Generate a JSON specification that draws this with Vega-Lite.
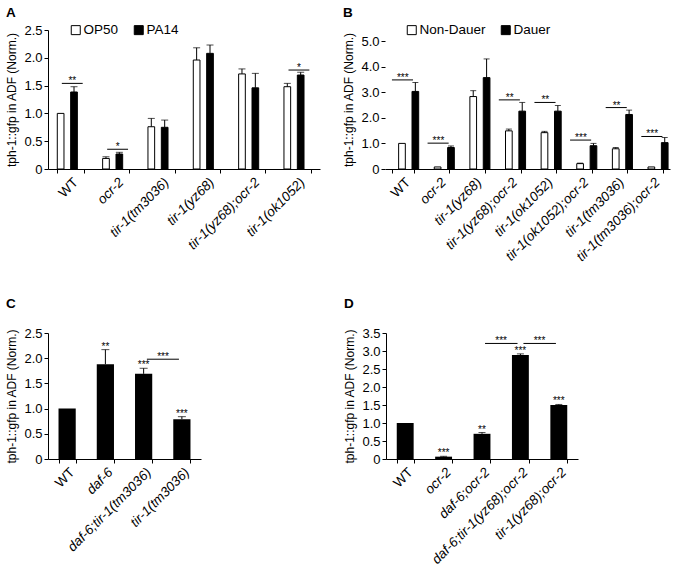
{
  "$schema": "https://vega.github.io/schema/vega-lite/v6.json",
  "background": "white",
  "padding": {"left": 5, "top": 5, "right": 2, "bottom": 2},
  "datasets": {
    "a": [
      {"strain": "WT", "cond": "OP50", "value": 1.0, "err": null},
      {"strain": "WT", "cond": "PA14", "value": 1.385, "err": 1.48},
      {"strain": "ocr-2", "cond": "OP50", "value": 0.19, "err": 0.22},
      {"strain": "ocr-2", "cond": "PA14", "value": 0.27, "err": 0.30},
      {"strain": "tir-1(tm3036)", "cond": "OP50", "value": 0.76, "err": 0.91},
      {"strain": "tir-1(tm3036)", "cond": "PA14", "value": 0.75, "err": 0.88},
      {"strain": "tir-1(yz68)", "cond": "OP50", "value": 1.96, "err": 2.18},
      {"strain": "tir-1(yz68)", "cond": "PA14", "value": 2.08, "err": 2.23},
      {"strain": "tir-1(yz68);ocr-2", "cond": "OP50", "value": 1.71, "err": 1.80},
      {"strain": "tir-1(yz68);ocr-2", "cond": "PA14", "value": 1.46, "err": 1.72},
      {"strain": "tir-1(ok1052)", "cond": "OP50", "value": 1.48, "err": 1.54},
      {"strain": "tir-1(ok1052)", "cond": "PA14", "value": 1.69, "err": 1.74}
    ],
    "a_sig": [
      {"strain": "WT", "y": 1.54, "label": "**"},
      {"strain": "ocr-2", "y": 0.355, "label": "*"},
      {"strain": "tir-1(ok1052)", "y": 1.78, "label": "*"}
    ],
    "b": [
      {"strain": "WT", "cond": "Non-Dauer", "value": 1.0, "err": null},
      {"strain": "WT", "cond": "Dauer", "value": 3.03, "err": 3.38},
      {"strain": "ocr-2", "cond": "Non-Dauer", "value": 0.08, "err": null},
      {"strain": "ocr-2", "cond": "Dauer", "value": 0.84, "err": 0.90},
      {"strain": "tir-1(yz68)", "cond": "Non-Dauer", "value": 2.83, "err": 3.06},
      {"strain": "tir-1(yz68)", "cond": "Dauer", "value": 3.57, "err": 4.3},
      {"strain": "tir-1(yz68);ocr-2", "cond": "Non-Dauer", "value": 1.49, "err": 1.56},
      {"strain": "tir-1(yz68);ocr-2", "cond": "Dauer", "value": 2.26, "err": 2.6},
      {"strain": "tir-1(ok1052)", "cond": "Non-Dauer", "value": 1.42, "err": 1.47},
      {"strain": "tir-1(ok1052)", "cond": "Dauer", "value": 2.26, "err": 2.48},
      {"strain": "tir-1(ok1052);ocr-2", "cond": "Non-Dauer", "value": 0.21, "err": 0.23},
      {"strain": "tir-1(ok1052);ocr-2", "cond": "Dauer", "value": 0.91, "err": 1.0},
      {"strain": "tir-1(tm3036)", "cond": "Non-Dauer", "value": 0.79, "err": 0.84},
      {"strain": "tir-1(tm3036)", "cond": "Dauer", "value": 2.13, "err": 2.3},
      {"strain": "tir-1(tm3036);ocr-2", "cond": "Non-Dauer", "value": 0.08, "err": null},
      {"strain": "tir-1(tm3036);ocr-2", "cond": "Dauer", "value": 1.03, "err": 1.23}
    ],
    "b_sig": [
      {"strain": "WT", "y": 3.48, "label": "***"},
      {"strain": "ocr-2", "y": 1.01, "label": "***"},
      {"strain": "tir-1(yz68);ocr-2", "y": 2.7, "label": "**"},
      {"strain": "tir-1(ok1052)", "y": 2.6, "label": "**"},
      {"strain": "tir-1(ok1052);ocr-2", "y": 1.13, "label": "***"},
      {"strain": "tir-1(tm3036)", "y": 2.4, "label": "**"},
      {"strain": "tir-1(tm3036);ocr-2", "y": 1.27, "label": "***"}
    ],
    "c": [
      {"strain": "WT", "value": 1.0, "err": null, "label": null},
      {"strain": "daf-6", "value": 1.88, "err": 2.17, "label": "**"},
      {"strain": "daf-6;tir-1(tm3036)", "value": 1.69, "err": 1.80, "label": "***"},
      {"strain": "tir-1(tm3036)", "value": 0.79, "err": 0.84, "label": "***"}
    ],
    "c_sig": [
      {"from": "daf-6;tir-1(tm3036)", "to": "tir-1(tm3036)", "y": 1.98, "label": "***"}
    ],
    "d": [
      {"strain": "WT", "value": 1.0, "err": null, "label": null},
      {"strain": "ocr-2", "value": 0.065, "err": 0.075, "label": "***"},
      {"strain": "daf-6;ocr-2", "value": 0.70, "err": 0.735, "label": "**"},
      {"strain": "daf-6;tir-1(yz68);ocr-2", "value": 2.89, "err": 2.92, "label": "***"},
      {"strain": "tir-1(yz68);ocr-2", "value": 1.50, "err": 1.515, "label": "***"}
    ],
    "d_sig": [
      {"from": "daf-6;ocr-2", "to": "daf-6;tir-1(yz68);ocr-2", "y": 3.21, "label": "***"},
      {"from": "daf-6;tir-1(yz68);ocr-2", "to": "tir-1(yz68);ocr-2", "y": 3.21, "label": "***"}
    ]
  },
  "vconcat": [
    {
      "resolve": {"scale": {"fill": "independent"}, "legend": {"fill": "independent"}},
      "hconcat": [
        {
          "title": {"text": "A", "offset": 4},
          "width": 272,
          "height": 139,
          "layer": [
            {
              "data": {"name": "a"},
              "mark": {"type": "bar", "stroke": "black", "strokeWidth": 1},
              "encoding": {
                "x": {"field": "strain", "type": "nominal",
                  "scale": {"domain": ["WT", "ocr-2", "tir-1(tm3036)", "tir-1(yz68)", "tir-1(yz68);ocr-2", "tir-1(ok1052)"], "paddingInner": 0.41, "paddingOuter": 0.205},
                  "axis": {"title": null, "labelFontStyle": {"condition": {"test": "datum.value === 'WT'", "value": "normal"}, "value": "italic"}}},
                "xOffset": {"field": "cond", "type": "nominal", "sort": ["OP50", "PA14"], "scale": {"paddingInner": 0, "paddingOuter": 0}},
                "y": {"field": "value", "type": "quantitative",
                  "scale": {"domain": [0, 2.5], "nice": false},
                  "axis": {"title": "tph-1::gfp in ADF (Norm.)", "values": [0, 0.5, 1, 1.5, 2, 2.5], "labelExpr": "datum.value == 0 ? '0' : format(datum.value, '.1f')"}},
                "fill": {"field": "cond", "type": "nominal",
                  "scale": {"domain": ["OP50", "PA14"], "range": ["white", "black"]},
                  "legend": {"orient": "none", "legendX": 21, "legendY": -7, "direction": "horizontal", "title": null}}
              }
            },
            {
              "data": {"name": "a"},
              "transform": [{"filter": "datum.err != null"}],
              "mark": {"type": "rule", "color": "black", "strokeWidth": 1},
              "encoding": {
                "x": {"field": "strain", "type": "nominal"},
                "xOffset": {"field": "cond", "type": "nominal", "sort": ["OP50", "PA14"]},
                "y": {"field": "value", "type": "quantitative", "axis": {"title": "tph-1::gfp in ADF (Norm.)", "values": [0, 0.5, 1, 1.5, 2, 2.5], "labelExpr": "datum.value == 0 ? '0' : format(datum.value, '.1f')"}},
                "y2": {"field": "err"}
              }
            },
            {
              "data": {"name": "a"},
              "transform": [{"filter": "datum.err != null"}],
              "mark": {"type": "tick", "color": "black", "size": 7, "thickness": 1, "orient": "horizontal"},
              "encoding": {
                "x": {"field": "strain", "type": "nominal"},
                "xOffset": {"field": "cond", "type": "nominal", "sort": ["OP50", "PA14"]},
                "y": {"field": "err", "type": "quantitative", "axis": {"title": "tph-1::gfp in ADF (Norm.)", "values": [0, 0.5, 1, 1.5, 2, 2.5], "labelExpr": "datum.value == 0 ? '0' : format(datum.value, '.1f')"}}
              }
            },
            {
              "data": {"name": "a_sig"},
              "mark": {"type": "rule", "color": "black", "strokeWidth": 1},
              "encoding": {
                "x": {"field": "strain", "type": "nominal", "bandPosition": 0.17},
                "x2": {"field": "strain", "bandPosition": 0.95},
                "y": {"field": "y", "type": "quantitative", "axis": {"title": "tph-1::gfp in ADF (Norm.)", "values": [0, 0.5, 1, 1.5, 2, 2.5], "labelExpr": "datum.value == 0 ? '0' : format(datum.value, '.1f')"}}
              }
            },
            {
              "data": {"name": "a_sig"},
              "mark": {"type": "text", "fontSize": 10, "dy": 1, "baseline": "alphabetic", "color": "black"},
              "encoding": {
                "x": {"field": "strain", "type": "nominal", "bandPosition": 0.56},
                "y": {"field": "y", "type": "quantitative", "axis": {"title": "tph-1::gfp in ADF (Norm.)", "values": [0, 0.5, 1, 1.5, 2, 2.5], "labelExpr": "datum.value == 0 ? '0' : format(datum.value, '.1f')"}},
                "text": {"field": "label"}
              }
            }
          ]
        },
        {
          "title": {"text": "B", "offset": 4},
          "width": 285,
          "height": 139,
          "layer": [
            {
              "data": {"name": "b"},
              "mark": {"type": "bar", "stroke": "black", "strokeWidth": 1},
              "encoding": {
                "x": {"field": "strain", "type": "nominal",
                  "scale": {"domain": ["WT", "ocr-2", "tir-1(yz68)", "tir-1(yz68);ocr-2", "tir-1(ok1052)", "tir-1(ok1052);ocr-2", "tir-1(tm3036)", "tir-1(tm3036);ocr-2"], "paddingInner": 0.39, "paddingOuter": 0.195},
                  "axis": {"title": null, "labelFontStyle": {"condition": {"test": "datum.value === 'WT'", "value": "normal"}, "value": "italic"}}},
                "xOffset": {"field": "cond", "type": "nominal", "sort": ["Non-Dauer", "Dauer"], "scale": {"paddingInner": 0, "paddingOuter": 0}},
                "y": {"field": "value", "type": "quantitative",
                  "scale": {"domain": [0, 5.43], "nice": false},
                  "axis": {"title": "tph-1::gfp in ADF (Norm.)", "domain": false, "values": [0, 1, 2, 3, 4, 5], "labelExpr": "datum.value == 0 ? '0' : format(datum.value, '.1f')"}},
                "fill": {"field": "cond", "type": "nominal",
                  "scale": {"domain": ["Non-Dauer", "Dauer"], "range": ["white", "black"]},
                  "legend": {"orient": "none", "legendX": 20, "legendY": -7, "direction": "horizontal", "title": null}}
              }
            },
            {
              "data": {"name": "b"},
              "transform": [{"filter": "datum.err != null"}],
              "mark": {"type": "rule", "color": "black", "strokeWidth": 1},
              "encoding": {
                "x": {"field": "strain", "type": "nominal"},
                "xOffset": {"field": "cond", "type": "nominal", "sort": ["Non-Dauer", "Dauer"]},
                "y": {"field": "value", "type": "quantitative", "axis": {"title": "tph-1::gfp in ADF (Norm.)", "domain": false, "values": [0, 1, 2, 3, 4, 5], "labelExpr": "datum.value == 0 ? '0' : format(datum.value, '.1f')"}},
                "y2": {"field": "err"}
              }
            },
            {
              "data": {"name": "b"},
              "transform": [{"filter": "datum.err != null"}],
              "mark": {"type": "tick", "color": "black", "size": 6, "thickness": 1, "orient": "horizontal"},
              "encoding": {
                "x": {"field": "strain", "type": "nominal"},
                "xOffset": {"field": "cond", "type": "nominal", "sort": ["Non-Dauer", "Dauer"]},
                "y": {"field": "err", "type": "quantitative", "axis": {"title": "tph-1::gfp in ADF (Norm.)", "domain": false, "values": [0, 1, 2, 3, 4, 5], "labelExpr": "datum.value == 0 ? '0' : format(datum.value, '.1f')"}}
              }
            },
            {
              "data": {"name": "b_sig"},
              "mark": {"type": "rule", "color": "black", "strokeWidth": 1},
              "encoding": {
                "x": {"field": "strain", "type": "nominal", "bandPosition": 0.0},
                "x2": {"field": "strain", "bandPosition": 0.97},
                "y": {"field": "y", "type": "quantitative", "axis": {"title": "tph-1::gfp in ADF (Norm.)", "domain": false, "values": [0, 1, 2, 3, 4, 5], "labelExpr": "datum.value == 0 ? '0' : format(datum.value, '.1f')"}}
              }
            },
            {
              "data": {"name": "b_sig"},
              "mark": {"type": "text", "fontSize": 10, "dy": 1, "baseline": "alphabetic", "color": "black"},
              "encoding": {
                "x": {"field": "strain", "type": "nominal", "bandPosition": 0.5},
                "y": {"field": "y", "type": "quantitative", "axis": {"title": "tph-1::gfp in ADF (Norm.)", "domain": false, "values": [0, 1, 2, 3, 4, 5], "labelExpr": "datum.value == 0 ? '0' : format(datum.value, '.1f')"}},
                "text": {"field": "label"}
              }
            },
            {
              "mark": {"type": "rule", "color": "black", "strokeWidth": 1},
              "encoding": {
                "x": {"datum": "WT", "type": "nominal", "bandPosition": -0.32},
                "y": {"datum": 0, "type": "quantitative", "axis": {"title": "tph-1::gfp in ADF (Norm.)", "domain": false, "values": [0, 1, 2, 3, 4, 5], "labelExpr": "datum.value == 0 ? '0' : format(datum.value, '.1f')"}},
                "y2": {"datum": 5}
              }
            }
          ]
        }
      ],
      "spacing": 22
    },
    {
      "hconcat": [
        {
          "title": {"text": "C", "offset": 17},
          "width": 153,
          "height": 126,
          "layer": [
            {
              "data": {"name": "c"},
              "mark": {"type": "bar", "color": "black"},
              "encoding": {
                "x": {"field": "strain", "type": "nominal",
                  "scale": {"domain": ["WT", "daf-6", "daf-6;tir-1(tm3036)", "tir-1(tm3036)"], "paddingInner": 0.55, "paddingOuter": 0.275},
                  "axis": {"title": null, "labelFontStyle": {"condition": {"test": "datum.value === 'WT'", "value": "normal"}, "value": "italic"}}},
                "y": {"field": "value", "type": "quantitative",
                  "scale": {"domain": [0, 2.5], "nice": false},
                  "axis": {"title": "tph-1::gfp in ADF (Norm.)", "values": [0, 0.5, 1, 1.5, 2, 2.5], "labelExpr": "datum.value == 0 ? '0' : format(datum.value, '.1f')"}}
              }
            },
            {
              "data": {"name": "c"},
              "transform": [{"filter": "datum.err != null"}],
              "mark": {"type": "rule", "color": "black", "strokeWidth": 1},
              "encoding": {
                "x": {"field": "strain", "type": "nominal"},
                "y": {"field": "value", "type": "quantitative", "axis": {"title": "tph-1::gfp in ADF (Norm.)", "values": [0, 0.5, 1, 1.5, 2, 2.5], "labelExpr": "datum.value == 0 ? '0' : format(datum.value, '.1f')"}},
                "y2": {"field": "err"}
              }
            },
            {
              "data": {"name": "c"},
              "transform": [{"filter": "datum.err != null"}],
              "mark": {"type": "tick", "color": "black", "size": 8, "thickness": 1, "orient": "horizontal"},
              "encoding": {
                "x": {"field": "strain", "type": "nominal"},
                "y": {"field": "err", "type": "quantitative", "axis": {"title": "tph-1::gfp in ADF (Norm.)", "values": [0, 0.5, 1, 1.5, 2, 2.5], "labelExpr": "datum.value == 0 ? '0' : format(datum.value, '.1f')"}}
              }
            },
            {
              "data": {"name": "c"},
              "transform": [{"filter": "datum.label != null"}],
              "mark": {"type": "text", "fontSize": 10, "dy": 0, "baseline": "alphabetic", "color": "black"},
              "encoding": {
                "x": {"field": "strain", "type": "nominal"},
                "y": {"field": "err", "type": "quantitative", "axis": {"title": "tph-1::gfp in ADF (Norm.)", "values": [0, 0.5, 1, 1.5, 2, 2.5], "labelExpr": "datum.value == 0 ? '0' : format(datum.value, '.1f')"}},
                "text": {"field": "label"}
              }
            },
            {
              "data": {"name": "c_sig"},
              "mark": {"type": "rule", "color": "black", "strokeWidth": 1},
              "encoding": {
                "x": {"field": "from", "type": "nominal", "bandPosition": 0.69},
                "x2": {"field": "to", "bandPosition": 0.33},
                "y": {"field": "y", "type": "quantitative", "axis": {"title": "tph-1::gfp in ADF (Norm.)", "values": [0, 0.5, 1, 1.5, 2, 2.5], "labelExpr": "datum.value == 0 ? '0' : format(datum.value, '.1f')"}}
              }
            },
            {
              "data": {"name": "c_sig"},
              "mark": {"type": "text", "fontSize": 10, "dy": 1, "baseline": "alphabetic", "color": "black"},
              "encoding": {
                "x": {"field": "from", "type": "nominal", "bandPosition": 1.63},
                "y": {"field": "y", "type": "quantitative", "axis": {"title": "tph-1::gfp in ADF (Norm.)", "values": [0, 0.5, 1, 1.5, 2, 2.5], "labelExpr": "datum.value == 0 ? '0' : format(datum.value, '.1f')"}},
                "text": {"field": "label"}
              }
            }
          ]
        },
        {
          "title": {"text": "D", "offset": 17},
          "width": 192,
          "height": 126,
          "layer": [
            {
              "data": {"name": "d"},
              "mark": {"type": "bar", "color": "black"},
              "encoding": {
                "x": {"field": "strain", "type": "nominal",
                  "scale": {"domain": ["WT", "ocr-2", "daf-6;ocr-2", "daf-6;tir-1(yz68);ocr-2", "tir-1(yz68);ocr-2"], "paddingInner": 0.56, "paddingOuter": 0.28},
                  "axis": {"title": null, "labelFontStyle": {"condition": {"test": "datum.value === 'WT'", "value": "normal"}, "value": "italic"}}},
                "y": {"field": "value", "type": "quantitative",
                  "scale": {"domain": [0, 3.5], "nice": false},
                  "axis": {"title": "tph-1::gfp in ADF (Norm.)", "values": [0, 0.5, 1, 1.5, 2, 2.5, 3, 3.5], "labelExpr": "datum.value == 0 ? '0' : format(datum.value, '.1f')"}}
              }
            },
            {
              "data": {"name": "d"},
              "transform": [{"filter": "datum.err != null"}],
              "mark": {"type": "rule", "color": "black", "strokeWidth": 1},
              "encoding": {
                "x": {"field": "strain", "type": "nominal"},
                "y": {"field": "value", "type": "quantitative", "axis": {"title": "tph-1::gfp in ADF (Norm.)", "values": [0, 0.5, 1, 1.5, 2, 2.5, 3, 3.5], "labelExpr": "datum.value == 0 ? '0' : format(datum.value, '.1f')"}},
                "y2": {"field": "err"}
              }
            },
            {
              "data": {"name": "d"},
              "transform": [{"filter": "datum.err != null"}],
              "mark": {"type": "tick", "color": "black", "size": 7, "thickness": 1, "orient": "horizontal"},
              "encoding": {
                "x": {"field": "strain", "type": "nominal"},
                "y": {"field": "err", "type": "quantitative", "axis": {"title": "tph-1::gfp in ADF (Norm.)", "values": [0, 0.5, 1, 1.5, 2, 2.5, 3, 3.5], "labelExpr": "datum.value == 0 ? '0' : format(datum.value, '.1f')"}}
              }
            },
            {
              "data": {"name": "d"},
              "transform": [{"filter": "datum.label != null"}],
              "mark": {"type": "text", "fontSize": 10, "dy": 0, "baseline": "alphabetic", "color": "black"},
              "encoding": {
                "x": {"field": "strain", "type": "nominal"},
                "y": {"field": "err", "type": "quantitative", "axis": {"title": "tph-1::gfp in ADF (Norm.)", "values": [0, 0.5, 1, 1.5, 2, 2.5, 3, 3.5], "labelExpr": "datum.value == 0 ? '0' : format(datum.value, '.1f')"}},
                "text": {"field": "label"}
              }
            },
            {
              "data": {"name": "d_sig"},
              "mark": {"type": "rule", "color": "black", "strokeWidth": 1},
              "encoding": {
                "x": {"field": "from", "type": "nominal", "bandPosition": 0.68},
                "x2": {"field": "to", "bandPosition": 0.33},
                "y": {"field": "y", "type": "quantitative", "axis": {"title": "tph-1::gfp in ADF (Norm.)", "values": [0, 0.5, 1, 1.5, 2, 2.5, 3, 3.5], "labelExpr": "datum.value == 0 ? '0' : format(datum.value, '.1f')"}}
              }
            },
            {
              "data": {"name": "d_sig"},
              "mark": {"type": "text", "fontSize": 10, "dy": 1, "baseline": "alphabetic", "color": "black"},
              "encoding": {
                "x": {"field": "from", "type": "nominal", "bandPosition": 1.63},
                "y": {"field": "y", "type": "quantitative", "axis": {"title": "tph-1::gfp in ADF (Norm.)", "values": [0, 0.5, 1, 1.5, 2, 2.5, 3, 3.5], "labelExpr": "datum.value == 0 ? '0' : format(datum.value, '.1f')"}},
                "text": {"field": "label"}
              }
            }
          ]
        }
      ],
      "spacing": 142
    }
  ],
  "spacing": 32,
  "config": {
    "font": "Liberation Sans",
    "view": {"stroke": null},
    "axis": {
      "grid": false,
      "domainColor": "black",
      "tickColor": "black",
      "labelColor": "black",
      "titleColor": "black",
      "labelFontSize": 13,
      "titleFontSize": 12,
      "titleFontWeight": "normal",
      "tickSize": 4,
      "labelPadding": 2,
      "titlePadding": 5,
      "domainWidth": 1,
      "tickWidth": 1
    },
    "axisY": {"labelOverlap": false},
    "axisX": {"labelAngle": -45, "tickBand": "extent", "labelFontSize": 13.5},
    "title": {"anchor": "start", "frame": "bounds", "fontSize": 13.5, "fontWeight": "bold", "color": "black", "font": "Liberation Sans"},
    "legend": {
      "symbolType": "square",
      "symbolSize": 81,
      "symbolStrokeColor": "black",
      "symbolStrokeWidth": 1,
      "labelFontSize": 13.5,
      "labelColor": "black",
      "labelOffset": 1,
      "columnPadding": 13,
      "padding": 0
    }
  }
}
